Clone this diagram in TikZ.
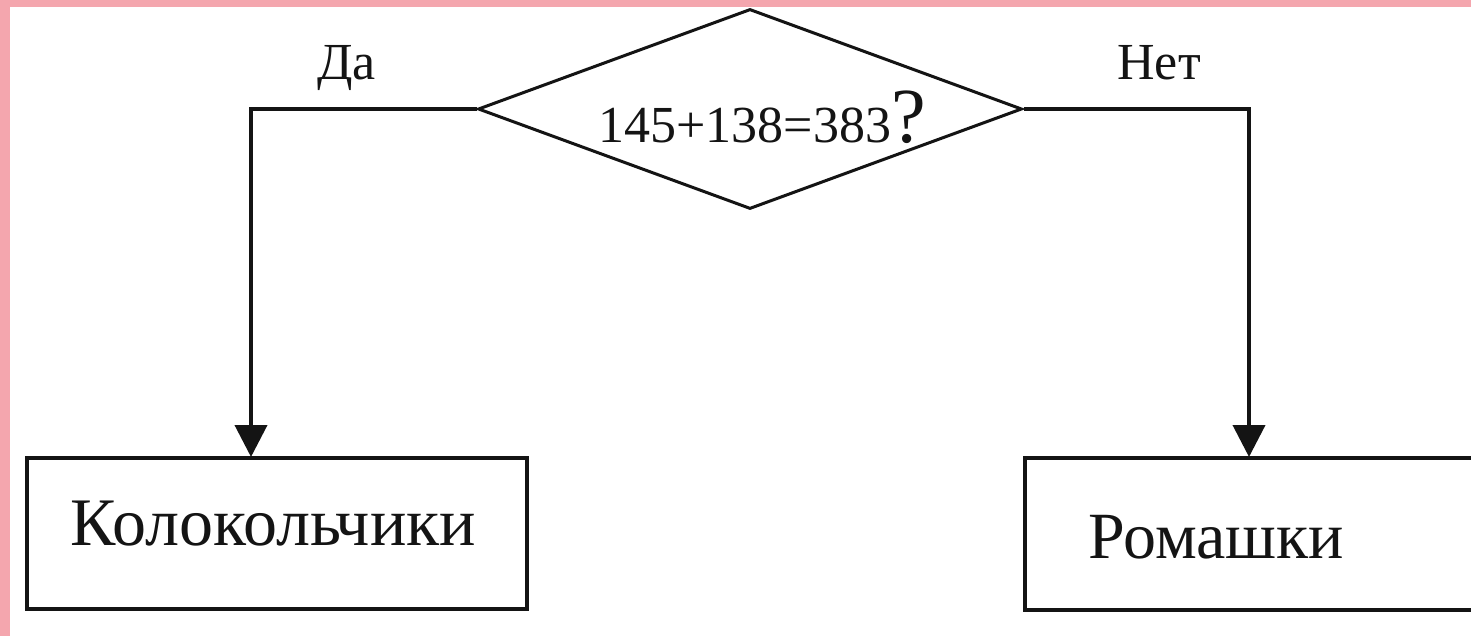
\documentclass[tikz,border=0pt]{standalone}
\usepackage{fontspec}
\setmainfont{LiberationSerif-Regular.ttf}
\usetikzlibrary{shapes.geometric,arrows.meta}
\definecolor{framepink}{HTML}{F4A6AE}
\definecolor{ink}{HTML}{141414}
\tikzset{
  decision/.style={draw=ink, line width=1.5pt, diamond, inner sep=0pt, minimum width=272pt, minimum height=100pt},
  outbox/.style={draw=ink, line width=2.4pt, rectangle, inner sep=0pt},
  lbl/.style={inner sep=0pt, anchor=base west, text=ink},
  conn/.style={draw=ink, line width=2pt, -{Triangle[length=16pt,width=16pt]}}
}
\begin{document}
\begin{tikzpicture}[x=0.5pt,y=-0.5pt]
\useasboundingbox (0,0) rectangle (1471,636);
\fill[framepink] (0,0) rectangle (1471,636);
\fill[white] (10,7) rectangle (1471,636);
\node[decision] (d) at (750,109) {};
\node[lbl, font=\fontsize{26}{30}\selectfont] (q) at (598,143) {145+138=383{\fontsize{39}{44}\selectfont ?}};
\node[outbox, minimum width=250pt, minimum height=75.5pt] (lb) at (277,533.5) {};
\node[outbox, minimum width=228pt, minimum height=76pt] (rb) at (1253,534) {};
\node[lbl, font=\fontsize{34}{40}\selectfont] (lt) at (70,545) {Колокольчики};
\node[lbl, font=\fontsize{33}{40}\selectfont] (rt) at (1088,558) {Ромашки};
\node[lbl, font=\fontsize{26}{30}\selectfont] (yes) at (317,80) {Да};
\node[lbl, font=\fontsize{26}{30}\selectfont] (no) at (1117,80) {Нет};
\coordinate (la) at (251,457);
\coordinate (ra) at (1249,457);
\draw[conn] (d.west) -| (la);
\draw[conn] (d.east) -| (ra);
\end{tikzpicture}
\end{document}
